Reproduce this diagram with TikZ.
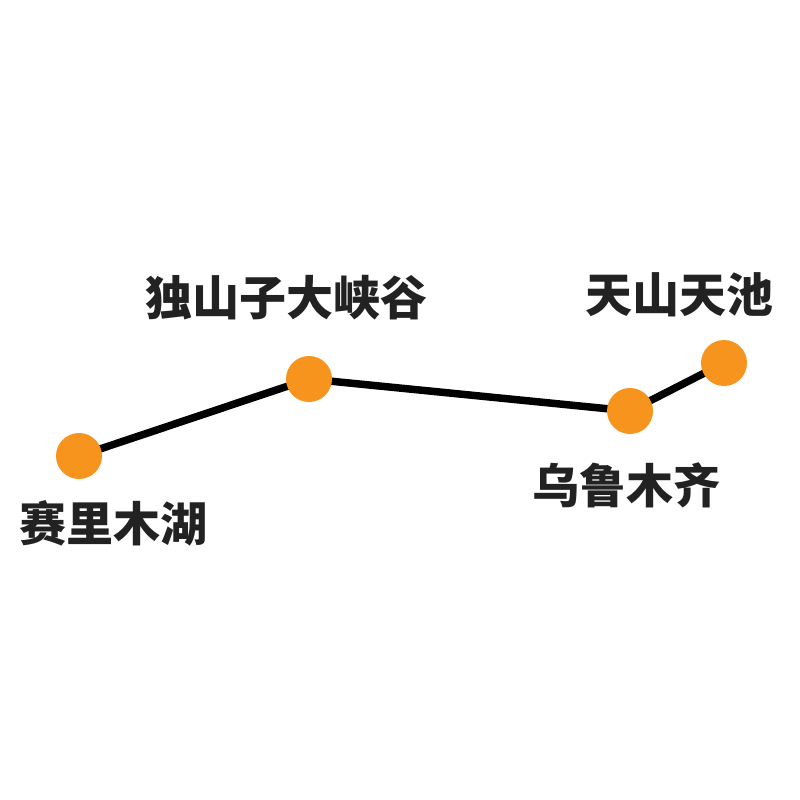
\documentclass[tikz,border=0pt]{standalone}
\usepackage{fontspec}
\newfontfamily\cjk{Noto Sans CJK SC}
\definecolor{dotor}{HTML}{F7941D}
\definecolor{txt}{HTML}{222222}
\begin{document}
\begin{tikzpicture}[x=1pt,y=-1pt,
  stop/.style={circle,fill=dotor,minimum size=46pt,inner sep=0pt},
  lbl/.style={text=txt,font=\cjk\bfseries\fontsize{47}{52}\selectfont,inner sep=0pt},
  route/.style={line width=7.5pt,black}]
\useasboundingbox (0,0) rectangle (800,800);
\coordinate (p1) at (79,456);
\coordinate (p2) at (309,379);
\coordinate (p3) at (630,411);
\coordinate (p4) at (724,363);
\draw[route] (p1) -- (p2) -- (p3) -- (p4);
\node[stop] (a) at (p1) {};
\node[stop] (b) at (p2) {};
\node[stop] (c) at (p3) {};
\node[stop] (d) at (p4) {};
\node[lbl] (la) at (113,523) {赛里木湖};
\node[lbl] (lb) at (286,298) {独山子大峡谷};
\node[lbl] (lc) at (626,485) {乌鲁木齐};
\node[lbl] (ld) at (679,295) {天山天池};
\end{tikzpicture}
\end{document}
